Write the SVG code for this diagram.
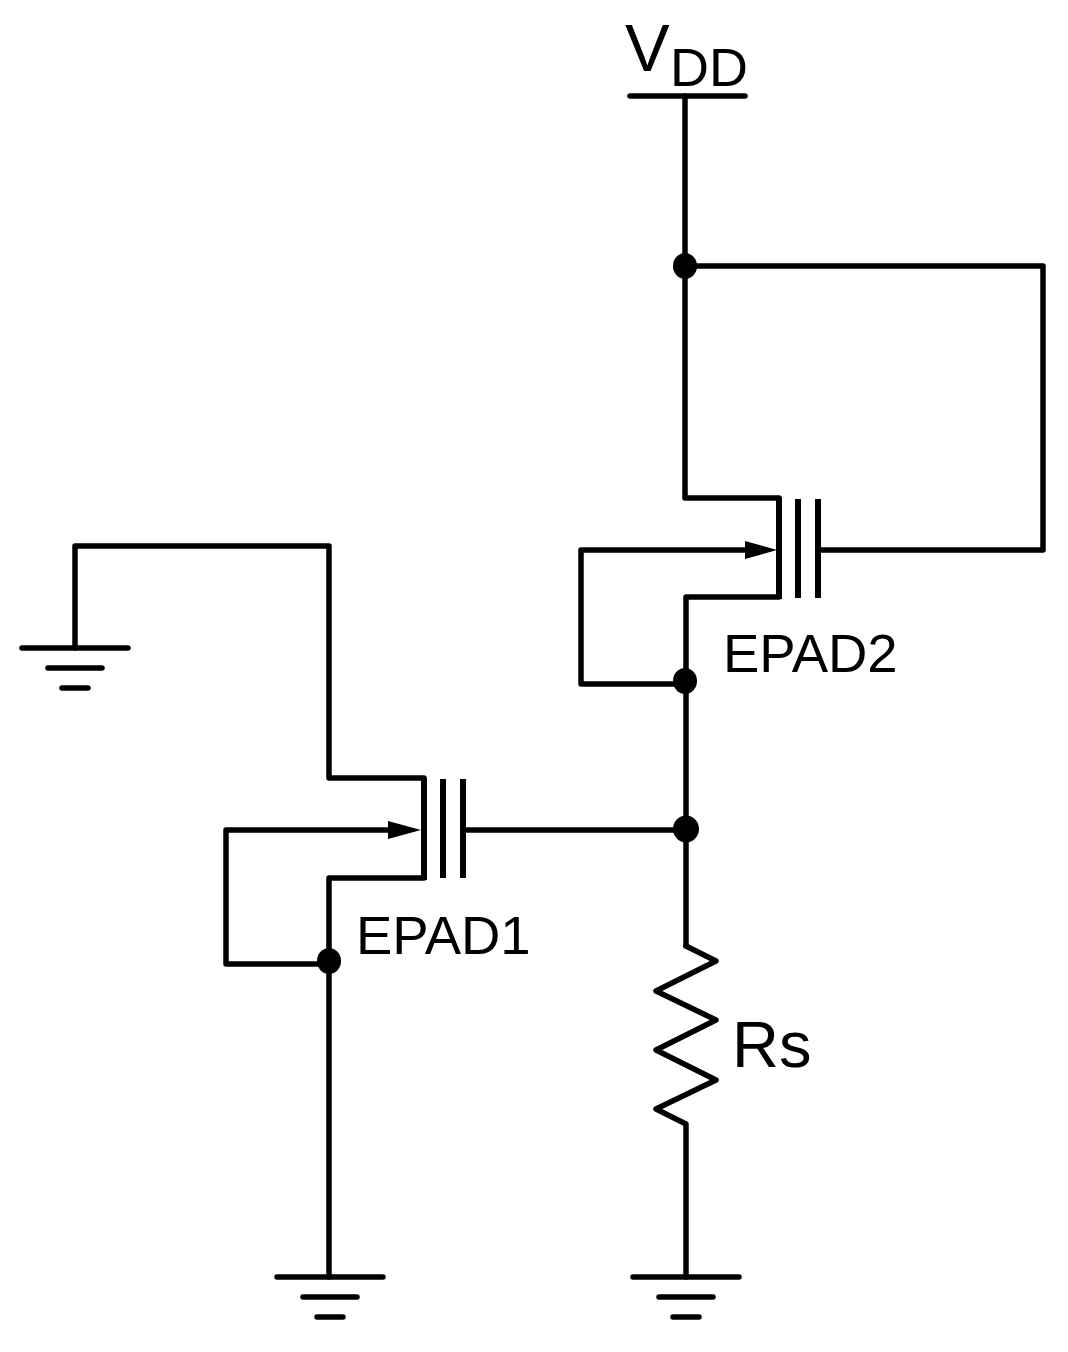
<svg xmlns="http://www.w3.org/2000/svg" width="1068" height="1352" viewBox="0 0 1068 1352">
<style>
.w{fill:none;stroke:#000;stroke-width:5.5;stroke-linecap:round;stroke-linejoin:round}
.p{fill:none;stroke:#000;stroke-width:6}
.d{fill:#000}
text{font-family:"Liberation Sans",Arial,sans-serif;fill:#000}
.v{font-size:67px}
.s{font-size:54px}
.e{font-size:54.5px}
.r{font-size:65px}
</style>
<defs>
<g id="gnd"><path class="w" d="M-53 0H53M-27 20H27M-13 40H13"/></g>
</defs>
<rect width="1068" height="1352" fill="#fff"/>
<g id="connectors">
<path class="w" d="M685 96V498H779"/>
<path class="w" d="M685 266H1043V550H819"/>
<path class="w" d="M779 597H686V946"/>
<path class="w" d="M744 550H581V684H685"/>
<path class="w" d="M75 648V546H329V778H424"/>
<path class="w" d="M390 830H226V964H329"/>
<path class="w" d="M424 878H329V1277"/>
<path class="w" d="M465 830H686"/>
<path class="w" d="M686 946L716 961L656 991L716 1020L656 1050L716 1080L656 1109L686 1124V1277"/>
</g>
<g id="vdd">
<path class="w" d="M630 96H745"/>
<text class="v" x="625" y="71">V</text>
<text class="s" x="670" y="86">DD</text>
</g>
<g id="epad2">
<path class="p" d="M779 497V599M798 499V598M818 499V598"/>
<path class="d" d="M777 550L745 541V559Z"/>
<text class="e" x="723" y="672">EPAD2</text>
</g>
<g id="epad1">
<path class="p" d="M424 778V880M443 779V878M463 779V878"/>
<path class="d" d="M421 830L388 821V839Z"/>
<text class="e" x="356" y="954">EPAD1</text>
</g>
<g id="rs"><text class="r" x="732" y="1067">Rs</text></g>
<g id="junctions">
<ellipse class="d" cx="685" cy="266" rx="12" ry="13"/>
<ellipse class="d" cx="685" cy="681" rx="12" ry="13"/>
<ellipse class="d" cx="686" cy="829" rx="13" ry="13.500"/>
<ellipse class="d" cx="329" cy="961" rx="12" ry="13"/>
</g>
<g id="gnd1"><use href="#gnd" x="75" y="648"/></g>
<g id="gnd2"><use href="#gnd" x="330" y="1277"/></g>
<g id="gnd3"><use href="#gnd" x="686" y="1277"/></g>
</svg>
